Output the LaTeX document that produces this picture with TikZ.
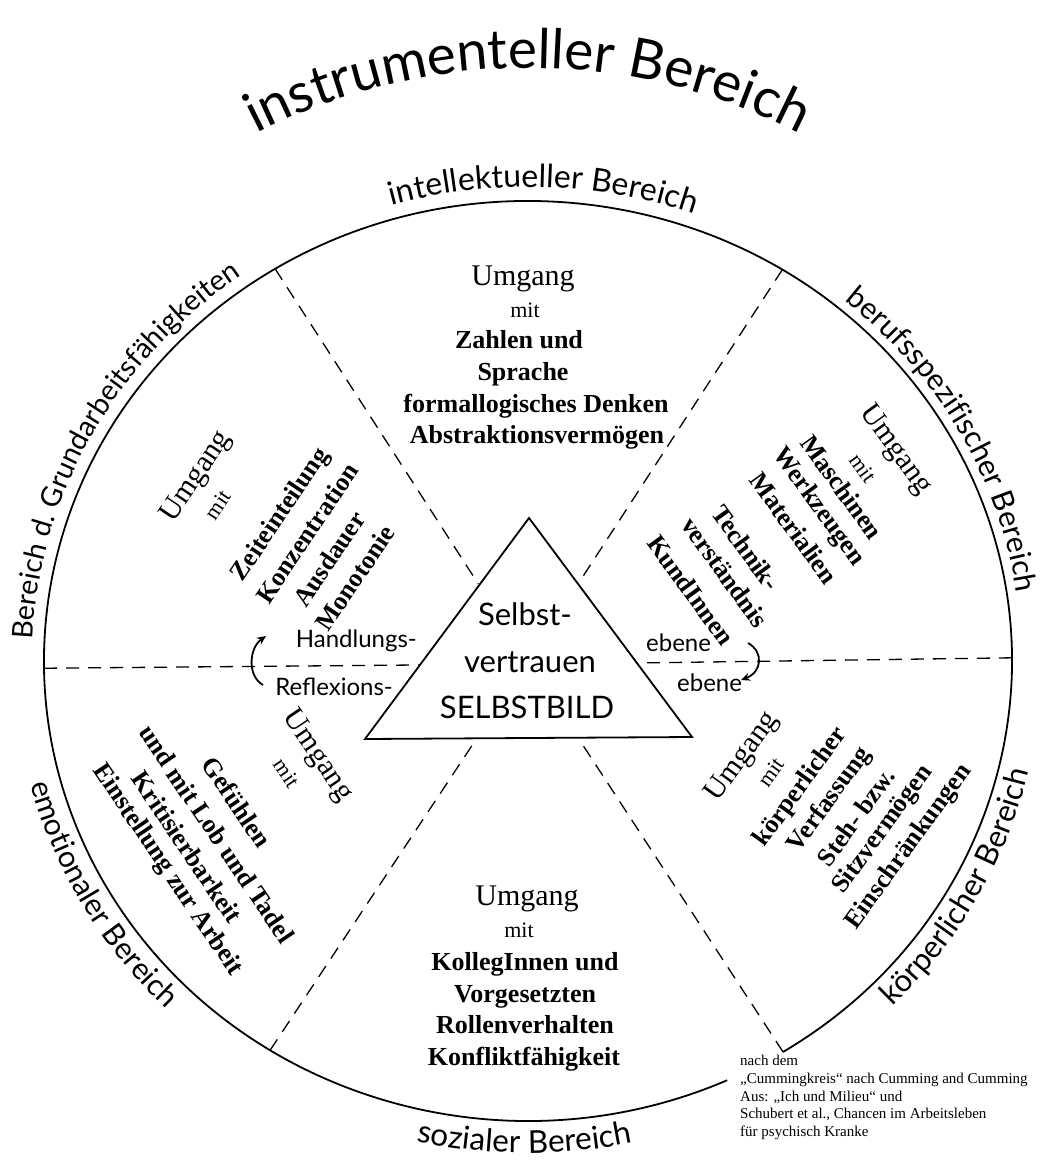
\documentclass[tikz,border=0pt]{standalone}
\usepackage{fontspec}
\setmainfont{Liberation Serif}
\newfontfamily\sansf{Lato}
\usetikzlibrary{decorations.text,calc,arrows.meta}
\begin{document}
\begin{tikzpicture}[x=1pt,y=1pt,
  umg/.style={inner sep=0pt, font=\fontsize{30}{34}\selectfont},
  mitst/.style={inner sep=0pt, font=\fontsize{22}{26}\selectfont},
  bld/.style={inner sep=0pt, font=\fontsize{26}{30}\selectfont\bfseries},
  sanst/.style={inner sep=0pt, font=\sansf\fontsize{24}{28}\selectfont},
  tritext/.style={inner sep=0pt, font=\sansf\fontsize{31}{36}\selectfont},
  dashline/.style={dash pattern=on 13pt off 9pt, line width=1.3pt},
  rim/.style={line width=1.8pt},
  tri/.style={line width=1.8pt},
  curvearrow/.style={line width=1.8pt, -{Stealth[length=9pt,width=8pt]}},
  lbl/.style 2 args={decorate, decoration={text along path, text align=center, text={|\sansf\fontsize{#1}{#1}\selectfont|#2}}},
  note/.style={inner sep=0pt, align=left, font=\fontsize{15}{17.7}\selectfont}
]
\useasboundingbox (0,0) rectangle (1040,-1162);
\fill[white] (0,0) rectangle (1040,-1162);

% centre and rim
\coordinate (c) at (528,-661);
\draw[rim] (c) ++(-58.2:484 and 460) arc[start angle=-58.2, end angle=294.3, x radius=484, y radius=460];
\path (c) ++(121.5:484 and 460) coordinate (eUL);
\path (c) ++(58.3:484 and 460) coordinate (eUR);
\path (c) ++(237.8:484 and 460) coordinate (eLL);
\path (c) ++(-58.2:484 and 460) coordinate (eLR);
\path (c) ++(180.9:484 and 460) coordinate (eL);
\path (c) ++(0.4:484 and 460) coordinate (eR);

% triangle
\coordinate (tA) at (529,-518);
\coordinate (tL) at (365,-739);
\coordinate (tR) at (692,-737);
\draw[tri] (tA) -- (tL) -- (tR) -- cycle;
\node[tritext, anchor=base] (s1) at (525,-625) {Selbst-};
\node[tritext, anchor=base] (s2) at (530,-672) {vertrauen};
\node[tritext, anchor=base] (s3) at (527,-718) {SELBSTBILD};

% dashed sector borders
\draw[dashline] (eUL) -- ($(c)!0.197!(eUL)$);
\draw[dashline] (eUR) -- ($(c)!0.197!(eUR)$);
\draw[dashline] (eLL) -- ($(c)!0.2!(eLL)$);
\draw[dashline] (eLR) -- ($(c)!0.2!(eLR)$);
\draw[dashline] (eL) -- ($(tA)!0.665!(tL)$);
\draw[dashline] (eR) -- ($(tA)!0.662!(tR)$);

% curved labels
\path[lbl={55}{instrumenteller Bereich}] (c) ++(140:593) arc[start angle=140, end angle=40, radius=593];
\path[lbl={32}{intellektueller Bereich}] (c) ++(128.2:498 and 474) arc[start angle=128.2, end angle=48.2, x radius=498, y radius=474];
\path[lbl={30}{berufsspezifischer Bereich}] (c) ++(64:494 and 470) arc[start angle=64, end angle=-6, x radius=494, y radius=470];
\path[lbl={28.5}{Bereich d. Grundarbeitsfähigkeiten}] (c) ++(186:496 and 472) arc[start angle=186, end angle=117, x radius=496, y radius=472];
\path[lbl={31}{körperlicher Bereich}] (c) ++(-55:514 and 490) arc[start angle=-55, end angle=-2.6, x radius=514, y radius=490];
\path[lbl={31.5}{sozialer Bereich}] (c) ++(240:516 and 492) arc[start angle=240, end angle=299.2, x radius=516, y radius=492];
\path[lbl={30}{emotionaler Bereich}] (c) ++(185:514 and 490) arc[start angle=185, end angle=234.6, x radius=514, y radius=490];

% top sector
\node[umg, anchor=base] (a1) at (523,-285) {Umgang};
\node[mitst, anchor=base] (a2) at (525,-317) {mit};
\node[bld, anchor=base] (a3) at (519,-348) {Zahlen und};
\node[bld, anchor=base] (a4) at (523,-380) {Sprache};
\node[bld, anchor=base] (a5) at (536,-412) {formallogisches Denken};
\node[bld, anchor=base] (a6) at (537,-443) {Abstraktionsvermögen};

% upper left sector
\node[umg, rotate=56] (b1) at (197,-477) {Umgang};
\node[mitst, rotate=56] (b2) at (218,-505) {mit};
\node[bld, rotate=56] (b3) at (281,-515) {Zeiteinteilung};
\node[bld, rotate=56] (b4) at (307,-533) {Konzentration};
\node[bld, rotate=56] (b5) at (329,-559) {Ausdauer};
\node[bld, rotate=56] (b6) at (355,-578) {Monotonie};

% upper right sector
\node[umg, rotate=-54] (c1) at (895,-450) {Umgang};
\node[mitst, rotate=-54] (c2) at (863,-468) {mit};
\node[bld, rotate=-54] (c3) at (842,-487) {Maschinen};
\node[bld, rotate=-54] (c4) at (818,-507) {Werkzeugen};
\node[bld, rotate=-54] (c5) at (794,-528) {Materialien};
\node[bld, rotate=-54] (c6) at (746,-548) {Technik-};
\node[bld, rotate=-54] (c7) at (725,-572) {verständnis};
\node[bld, rotate=-54] (c8) at (691,-590) {KundInnen};

% lower right sector
\node[umg, rotate=54] (d1) at (743,-757) {Umgang};
\node[mitst, rotate=54] (d2) at (771,-772) {mit};
\node[bld, rotate=54] (d3) at (801,-787) {körperlicher};
\node[bld, rotate=54] (d4) at (830,-800) {Verfassung};
\node[bld, rotate=54] (d5) at (856,-817) {Steh- bzw.};
\node[bld, rotate=54] (d6) at (883,-830) {Sitzvermögen};
\node[bld, rotate=54] (d7) at (909,-847) {Einschränkungen};

% lower left sector
\node[umg, rotate=-56] (e1) at (317,-756) {Umgang};
\node[mitst, rotate=-56] (e2) at (287,-773) {mit};
\node[bld, rotate=-56] (e3) at (237,-802) {Gefühlen};
\node[bld, rotate=-56] (e4) at (217,-834) {und mit Lob und Tadel};
\node[bld, rotate=-56] (e5) at (187,-847) {Kritisierbarkeit};
\node[bld, rotate=-56] (e6) at (167,-870) {Einstellung zur Arbeit};

% bottom sector
\node[umg, anchor=base] (f1) at (527,-905) {Umgang};
\node[mitst, anchor=base] (f2) at (519,-937) {mit};
\node[bld, anchor=base] (f3) at (525,-970) {KollegInnen und};
\node[bld, anchor=base] (f4) at (525,-1002) {Vorgesetzten};
\node[bld, anchor=base] (f5) at (525,-1033) {Rollenverhalten};
\node[bld, anchor=base] (f6) at (524,-1065) {Konfliktfähigkeit};

% level labels and arrows
\node[sanst, anchor=base east] (h1) at (417,-647) {Handlungs-};
\node[sanst, anchor=base east] (h2) at (393,-695) {Reflexions-};
\node[sanst, anchor=base west] (h3) at (646,-651) {ebene};
\node[sanst, anchor=base west] (h4) at (677,-691) {ebene};
\coordinate (la0) at (263,-685);
\coordinate (la1) at (266,-636);
\coordinate (ra0) at (748,-643);
\coordinate (ra1) at (741,-680);
\draw[curvearrow] (la0) .. controls (247,-676) and (249,-648) .. (la1);
\draw[curvearrow] (ra0) .. controls (764,-652) and (762,-672) .. (ra1);

% source note
\node[note, anchor=north west] (n1) at (740,-1055) {nach dem\\
„Cummingkreis“ nach Cumming and Cumming\\
Aus: „Ich und Milieu“ und\\
Schubert et al., Chancen im Arbeitsleben\\
für psychisch Kranke};
\end{tikzpicture}
\end{document}
